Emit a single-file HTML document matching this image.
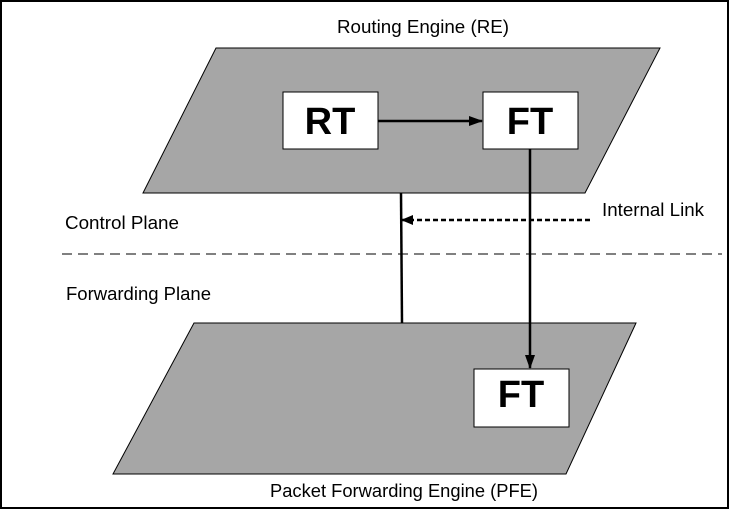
<!DOCTYPE html>
<html><head><style>body{margin:0;background:#fff}</style></head><body>
<svg width="729" height="509" xmlns="http://www.w3.org/2000/svg" font-family="Liberation Sans, Arial, sans-serif">
<defs><marker id="a" markerWidth="12" markerHeight="10" refX="11" refY="5" orient="auto" markerUnits="userSpaceOnUse"><path d="M0,0L12,5L0,10z" fill="#000"/></marker>
<marker id="b" markerWidth="14" markerHeight="10" refX="13" refY="5" orient="auto" markerUnits="userSpaceOnUse"><path d="M0,0L14,5L0,10z" fill="#000"/></marker></defs>
<rect x="1" y="1" width="727" height="507" fill="#fff" stroke="#000" stroke-width="2"/>
<polygon points="216,48 660,48 585,193 143,193" fill="#a6a6a6" stroke="#000" stroke-width="1"/>
<polygon points="194,323 636,323 566,474 113,474" fill="#a6a6a6" stroke="#000" stroke-width="1"/>
<rect x="283" y="92" width="95" height="57" fill="#fff" stroke="#000"/>
<rect x="483" y="92" width="95" height="57" fill="#fff" stroke="#000"/>
<rect x="474" y="369" width="95" height="58" fill="#fff" stroke="#000"/>
<text x="330" y="134" font-size="38" font-weight="bold" text-anchor="middle">RT</text>
<text x="530" y="134" font-size="38" font-weight="bold" text-anchor="middle">FT</text>
<text x="521" y="407" font-size="38" font-weight="bold" text-anchor="middle">FT</text>
<line x1="378" y1="121" x2="482" y2="121" stroke="#000" stroke-width="2.5" marker-end="url(#b)"/>
<line x1="530" y1="149" x2="530" y2="368" stroke="#000" stroke-width="2.5" marker-end="url(#b)"/>
<line x1="401" y1="193" x2="402" y2="323" stroke="#000" stroke-width="2.5"/>
<line x1="590" y1="220" x2="402" y2="220" stroke="#000" stroke-width="2.5" stroke-dasharray="5,3" marker-end="url(#a)"/>
<line x1="62" y1="254" x2="722" y2="254" stroke="#000" stroke-width="1" stroke-dasharray="10,6"/>
<text x="337" y="33" font-size="18" textLength="172" lengthAdjust="spacingAndGlyphs">Routing Engine (RE)</text>
<text x="65" y="229" font-size="18" textLength="114" lengthAdjust="spacingAndGlyphs">Control Plane</text>
<text x="602" y="216" font-size="18" textLength="102" lengthAdjust="spacingAndGlyphs">Internal Link</text>
<text x="66" y="300" font-size="18" textLength="145" lengthAdjust="spacingAndGlyphs">Forwarding Plane</text>
<text x="270" y="497" font-size="18" textLength="268" lengthAdjust="spacingAndGlyphs">Packet Forwarding Engine (PFE)</text>
</svg>
</body></html>
